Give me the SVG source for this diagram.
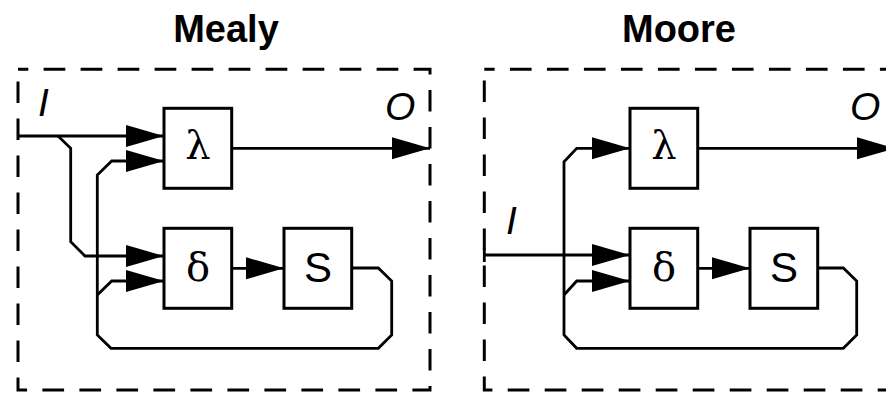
<svg xmlns="http://www.w3.org/2000/svg" width="886" height="404" viewBox="0 0 886 404">
<style>
.frame{fill:none;stroke:#000;stroke-width:3;stroke-dasharray:21.7 15.3}
.box{fill:#fff;stroke:#000;stroke-width:3}
.wire{fill:none;stroke:#000;stroke-width:2.8}
.arr{marker-end:url(#ah)}
.title{font-family:"Liberation Sans",Arial,sans-serif;font-weight:bold;font-size:38px;text-anchor:middle}
.io{font-family:"Liberation Sans",Arial,sans-serif;font-style:italic;font-size:39px}
.greek{font-family:"DejaVu Serif","Liberation Serif",serif;font-size:40px;text-anchor:middle}
.st{font-family:"Liberation Sans",Arial,sans-serif;font-size:42px;text-anchor:middle}
</style>
<defs>
<marker id="ah" markerUnits="userSpaceOnUse" markerWidth="40" markerHeight="24" refX="38" refY="11" orient="auto">
<path d="M0,0 L38,11 L0,22 z" fill="#000"/>
</marker>
</defs>
<rect width="886" height="404" fill="#fff"/>
<g id="titles">
<text class="title" x="226" y="42">Mealy</text>
<text class="title" x="679" y="42">Moore</text>
</g>
<g id="mealy-frame">
<rect class="frame" x="18" y="69.3" width="412" height="320.7" stroke-dashoffset="11.4"/>
</g>
<g id="moore-frame">
<rect class="frame" x="484.3" y="69.3" width="430" height="320.7" stroke-dashoffset="11.4"/>
<line class="wire" x1="484.3" y1="248" x2="484.3" y2="262"/>
</g>
<g id="connectors">
<path class="wire arr" d="M18,136 H164"/>
<path class="wire arr" d="M58,136 L70.7,148.3 V241.7 L85,256 H164"/>
<path class="wire arr" d="M232,148.3 H430"/>
<path class="wire arr" d="M351.7,268 H378.3 L391.7,281 V335 L378.3,348.3 H111 L97.3,335 V175 L111.7,161 H164"/>
<path class="wire arr" d="M97.3,295 L111.7,281 H164"/>
<path class="wire arr" d="M232,268.3 H284"/>
<path class="wire arr" d="M484.3,255 H630"/>
<path class="wire arr" d="M698,148.3 H895"/>
<path class="wire arr" d="M817.3,268 H843.3 L856.7,281 V335 L843.3,348.3 H576.7 L564,335 V161.7 L576.7,148.3 H630"/>
<path class="wire arr" d="M564,295 L576.7,281 H630"/>
<path class="wire arr" d="M698,268.3 H750"/>
</g>
<g id="mealy-lambda">
<rect class="box" x="164" y="108.3" width="67.7" height="80"/>
<text class="greek" x="198" y="159">λ</text>
</g>
<g id="mealy-delta">
<rect class="box" x="164" y="228.3" width="67.7" height="80"/>
<text class="greek" x="198" y="281">δ</text>
</g>
<g id="mealy-state">
<rect class="box" x="284" y="228.3" width="67.7" height="80"/>
<text class="st" x="318" y="282">S</text>
</g>
<g id="moore-lambda">
<rect class="box" x="630" y="108.3" width="67.7" height="80"/>
<text class="greek" x="664" y="159">λ</text>
</g>
<g id="moore-delta">
<rect class="box" x="630" y="228.3" width="67.7" height="80"/>
<text class="greek" x="664" y="281">δ</text>
</g>
<g id="moore-state">
<rect class="box" x="750" y="228.3" width="67.7" height="80"/>
<text class="st" x="784" y="282">S</text>
</g>
<g id="labels">
<text class="io" x="38" y="116">I</text>
<text class="io" x="385" y="120">O</text>
<text class="io" x="506" y="234">I</text>
<text class="io" x="850" y="120">O</text>
</g>
</svg>
